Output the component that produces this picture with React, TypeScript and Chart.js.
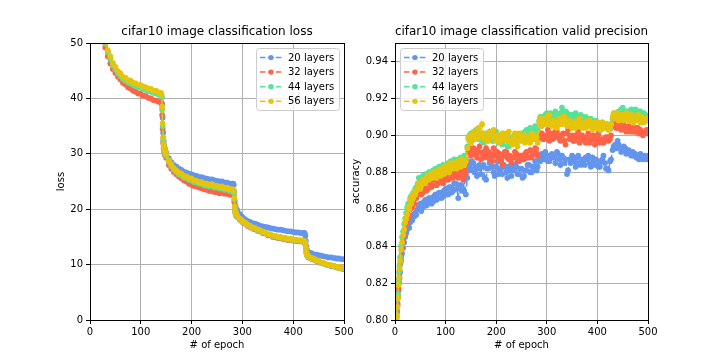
import React, { useEffect, useRef } from "react";
import { Chart, registerables } from "chart.js";

Chart.register(...registerables);

const FONT = "DejaVu Sans";

const seriesLabels = ["20 layers", "32 layers", "44 layers", "56 layers"];
const seriesColors = ["#6495ED", "#FF6347", "#55E39A", "#E6C40C"];

const epochTicks = [0, 100, 200, 300, 400, 500];
const lossTicks = [0, 10, 20, 30, 40, 50];
const accTicks = [0.8, 0.82, 0.84, 0.86, 0.88, 0.9, 0.92, 0.94];

// ---------- loss ----------
const lossEpochs = [
  25, 30, 35, 40, 45, 50, 55, 60, 65, 70, 75, 80, 85, 90, 95, 100, 105, 110, 115, 120, 125, 130, 135, 140,
  141, 142, 143, 144, 145, 146, 147, 148,
  150, 155, 160, 165, 170, 175, 180, 185, 190, 195, 200, 205, 210, 215, 220, 225, 230, 235, 240, 245, 250, 255, 260, 265, 270, 275, 280,
  282, 283, 284, 285, 286, 287, 288,
  290, 295, 300, 305, 310, 315, 320, 325, 330, 335, 340, 345, 350, 355, 360, 365, 370, 375, 380, 385, 390, 395, 400, 405, 410, 415, 420,
  422, 423, 424, 425, 426, 427, 428, 429,
  430, 435, 440, 445, 450, 455, 460, 465, 470, 475, 480, 485, 490, 495, 500,
];

const loss20 = [
  52.3, 50.0, 48.4, 47.3, 46.1, 45.4, 44.6, 44.2, 43.6, 43.4, 43.0, 42.9, 42.5, 42.4, 42.1, 42.1, 41.8, 41.7, 41.4, 41.4, 41.1, 41.1, 40.8, 40.7,
  40.2, 39.0, 36.5, 33.8, 32.3, 31.6, 31.1, 30.7,
  30.2, 29.2, 28.5, 28.0, 27.7, 27.3, 27.1, 26.8, 26.6, 26.4, 26.3, 26.1, 26.0, 25.8, 25.8, 25.6, 25.5, 25.4, 25.4, 25.2, 25.1, 25.0, 25.0, 24.8, 24.8, 24.6, 24.6,
  24.6, 24.4, 23.2, 21.5, 20.7, 20.3, 20.0,
  19.8, 19.1, 18.6, 18.2, 17.9, 17.7, 17.5, 17.4, 17.2, 17.0, 16.9, 16.8, 16.7, 16.6, 16.5, 16.4, 16.3, 16.3, 16.2, 16.1, 16.0, 16.0, 15.9, 15.8, 15.8, 15.7, 15.7,
  15.7, 15.6, 15.2, 14.3, 13.3, 12.7, 12.4, 12.3,
  12.2, 12.1, 11.9, 11.8, 11.7, 11.6, 11.5, 11.4, 11.3, 11.3, 11.2, 11.1, 11.1, 11.0, 11.0,
];

const loss32 = [
  51.5, 49.2, 47.6, 46.3, 45.3, 44.6, 43.9, 43.4, 42.8, 42.5, 42.0, 41.8, 41.4, 41.2, 40.9, 40.8, 40.5, 40.4, 40.1, 40.0, 39.7, 39.6, 39.4, 39.3,
  39.0, 37.0, 34.5, 32.0, 31.0, 30.4, 30.0, 29.7,
  29.3, 28.0, 27.3, 26.7, 26.3, 25.9, 25.6, 25.2, 25.0, 24.6, 24.4, 24.2, 24.1, 23.9, 23.8, 23.6, 23.5, 23.3, 23.3, 23.1, 23.1, 22.9, 23.0, 22.8, 22.8, 22.6, 22.7,
  22.7, 22.5, 21.3, 20.0, 19.4, 19.1, 18.8,
  18.6, 18.1, 17.7, 17.4, 17.0, 16.8, 16.5, 16.4, 16.1, 16.0, 15.7, 15.6, 15.3, 15.3, 15.0, 15.0, 14.8, 14.8, 14.6, 14.6, 14.4, 14.5, 14.3, 14.3, 14.2, 14.2, 14.1,
  14.1, 14.0, 13.6, 12.8, 12.1, 11.8, 11.6, 11.5,
  11.3, 11.1, 10.9, 10.7, 10.5, 10.3, 10.2, 10.0, 9.9, 9.7, 9.7, 9.5, 9.4, 9.3, 9.2,
];

const loss44 = [
  52.1, 49.9, 48.3, 47.1, 46.0, 45.2, 44.5, 44.0, 43.5, 43.2, 42.9, 42.7, 42.4, 42.2, 42.0, 41.9, 41.7, 41.5, 41.3, 41.2, 41.0, 40.9, 40.7, 40.6,
  40.3, 38.0, 35.0, 32.6, 31.5, 30.9, 30.5, 30.1,
  29.6, 28.5, 27.8, 27.1, 26.7, 26.3, 26.1, 25.7, 25.6, 25.3, 25.2, 24.9, 24.8, 24.6, 24.6, 24.3, 24.3, 24.1, 24.2, 23.9, 23.9, 23.7, 23.8, 23.5, 23.6, 23.3, 23.3,
  23.2, 23.0, 21.8, 20.3, 19.6, 19.2, 18.9,
  18.7, 18.2, 17.8, 17.5, 17.1, 16.9, 16.6, 16.5, 16.2, 16.1, 15.8, 15.7, 15.4, 15.4, 15.1, 15.1, 14.9, 14.9, 14.7, 14.7, 14.5, 14.6, 14.4, 14.4, 14.3, 14.3, 14.2,
  14.1, 14.1, 13.7, 12.9, 12.2, 11.8, 11.6, 11.5,
  11.4, 11.1, 11.0, 10.7, 10.6, 10.3, 10.2, 10.0, 9.9, 9.8, 9.7, 9.5, 9.5, 9.3, 9.3,
];

const loss56 = [
  52.6, 50.3, 48.7, 47.6, 46.4, 45.7, 44.9, 44.5, 43.9, 43.7, 43.3, 43.2, 42.8, 42.7, 42.4, 42.4, 42.1, 42.0, 41.7, 41.7, 41.4, 41.4, 41.1, 41.0,
  40.6, 38.5, 35.5, 33.0, 31.8, 31.2, 30.8, 30.4,
  29.9, 28.8, 28.1, 27.4, 27.0, 26.6, 26.4, 26.0, 25.9, 25.6, 25.5, 25.2, 25.1, 24.9, 24.9, 24.6, 24.6, 24.4, 24.5, 24.2, 24.2, 24.0, 24.1, 23.8, 23.9, 23.6, 23.6,
  23.5, 23.3, 22.0, 20.5, 19.8, 19.4, 19.1,
  18.8, 18.3, 17.9, 17.6, 17.2, 17.0, 16.7, 16.6, 16.3, 16.2, 15.9, 15.8, 15.5, 15.5, 15.2, 15.2, 15.0, 15.0, 14.8, 14.8, 14.6, 14.7, 14.5, 14.5, 14.4, 14.4, 14.3,
  14.2, 14.2, 13.8, 13.0, 12.3, 11.9, 11.7, 11.6,
  11.5, 11.2, 11.1, 10.8, 10.7, 10.4, 10.3, 10.1, 10.0, 9.9, 9.8, 9.6, 9.6, 9.4, 9.4,
];

// ---------- valid precision ----------
const accEpochs = [
  1, 2, 3, 4, 5, 6, 7, 8, 9, 10,
  12, 14, 16, 18, 20, 22, 24, 26, 28, 30, 32, 34, 36, 38, 40,
  42, 45, 47, 50, 52, 55, 57, 60, 62, 65, 67, 70, 72, 75, 77, 80, 82, 85, 87, 90,
  92, 95, 97, 100, 102, 105, 107, 110, 112, 115, 117, 120, 122, 125, 127, 130, 132, 135, 137, 140,
  143,
  145, 147, 150, 152, 155, 157, 160, 162, 165, 167, 170, 172, 175, 177, 180, 182, 185, 187, 190, 192,
  195, 197, 200, 202, 205, 207, 210, 212, 215, 217, 220, 222, 225, 227, 230, 232, 235, 237, 240, 242,
  245, 247, 250, 252, 255, 257, 260, 262, 265, 267, 270, 272, 275, 277, 280, 282,
  285, 287, 290, 292, 295, 297, 300, 302, 305, 307, 310, 312, 315, 317, 320, 322, 325, 327, 330, 332,
  335, 337, 340, 342, 345, 347, 350, 352, 355, 357, 360, 362, 365, 367, 370, 372, 375, 377, 380, 382,
  385, 387, 390, 392, 395, 397, 400, 402, 405, 407, 410, 412, 415, 417, 420, 422, 425, 427,
  430, 432, 435, 437, 440, 442, 445, 447, 450, 452, 455, 457, 460, 462, 465, 467, 470, 472, 475, 477,
  480, 482, 485, 487, 490, 492, 495, 497, 500,
];

const acc20 = [
  0.785, 0.792, 0.799, 0.804, 0.808, 0.812, 0.816, 0.82, 0.823, 0.826,
  0.832, 0.836, 0.839, 0.842, 0.845, 0.847, 0.849, 0.851, 0.85, 0.853, 0.855, 0.854, 0.857, 0.856, 0.858,
  0.857, 0.86, 0.862, 0.863, 0.859, 0.861, 0.864, 0.865, 0.862, 0.863, 0.866, 0.866, 0.863, 0.864, 0.867, 0.868, 0.865, 0.866, 0.869, 0.869,
  0.866, 0.867, 0.87, 0.871, 0.868, 0.868, 0.872, 0.872, 0.869, 0.87, 0.874, 0.874, 0.871, 0.866, 0.873, 0.873, 0.87, 0.87, 0.876, 0.868,
  0.877,
  0.884, 0.881, 0.882, 0.886, 0.885, 0.88, 0.883, 0.878, 0.882, 0.884, 0.879, 0.883, 0.884, 0.877, 0.876, 0.882, 0.882, 0.885, 0.888, 0.883,
  0.88, 0.878, 0.883, 0.886, 0.879, 0.881, 0.882, 0.879, 0.884, 0.883, 0.88, 0.877, 0.883, 0.881, 0.878, 0.882, 0.881, 0.884, 0.883, 0.879,
  0.879, 0.882, 0.882, 0.877, 0.878, 0.881, 0.881, 0.884, 0.884, 0.88, 0.88, 0.883, 0.883, 0.886, 0.881, 0.883,
  0.888, 0.886, 0.89, 0.889, 0.887, 0.891, 0.889, 0.886, 0.886, 0.889, 0.89, 0.888, 0.888, 0.885, 0.891, 0.89, 0.887, 0.884, 0.889, 0.888,
  0.885, 0.887, 0.879, 0.881, 0.887, 0.885, 0.889, 0.888, 0.886, 0.883, 0.888, 0.889, 0.885, 0.884, 0.887, 0.885, 0.884, 0.888, 0.887, 0.889,
  0.885, 0.883, 0.888, 0.886, 0.884, 0.887, 0.886, 0.883, 0.883, 0.886, 0.887, 0.889, 0.885, 0.882, 0.882, 0.881, 0.886, 0.887,
  0.892, 0.894, 0.895, 0.893, 0.897, 0.895, 0.893, 0.891, 0.892, 0.894, 0.893, 0.89, 0.891, 0.892, 0.89, 0.889, 0.891, 0.889, 0.89, 0.888,
  0.889, 0.887, 0.89, 0.888, 0.887, 0.889, 0.888, 0.887, 0.889,
];

const acc32 = [
  0.787, 0.795, 0.801, 0.805, 0.809, 0.813, 0.817, 0.822, 0.825, 0.83,
  0.834, 0.839, 0.843, 0.846, 0.849, 0.852, 0.854, 0.857, 0.856, 0.86, 0.862, 0.861, 0.864, 0.863, 0.866,
  0.866, 0.868, 0.87, 0.871, 0.868, 0.869, 0.872, 0.873, 0.87, 0.871, 0.875, 0.874, 0.872, 0.873, 0.876, 0.876, 0.873, 0.874, 0.877, 0.878,
  0.875, 0.874, 0.877, 0.878, 0.876, 0.876, 0.879, 0.88, 0.877, 0.877, 0.88, 0.881, 0.878, 0.877, 0.88, 0.882, 0.878, 0.876, 0.881, 0.879,
  0.886,
  0.891, 0.893, 0.889, 0.892, 0.893, 0.89, 0.892, 0.888, 0.891, 0.894, 0.887, 0.89, 0.891, 0.888, 0.893, 0.889, 0.891, 0.887, 0.89, 0.886,
  0.893, 0.889, 0.889, 0.891, 0.887, 0.89, 0.886, 0.884, 0.889, 0.891, 0.891, 0.888, 0.887, 0.889, 0.885, 0.888, 0.888, 0.891, 0.89, 0.886,
  0.886, 0.889, 0.889, 0.887, 0.887, 0.89, 0.891, 0.888, 0.888, 0.892, 0.888, 0.89, 0.89, 0.893, 0.89, 0.889,
  0.899, 0.901, 0.901, 0.898, 0.898, 0.9, 0.9, 0.903, 0.897, 0.899, 0.901, 0.898, 0.899, 0.902, 0.902, 0.9, 0.898, 0.897, 0.9, 0.901,
  0.897, 0.895, 0.901, 0.903, 0.898, 0.899, 0.9, 0.897, 0.897, 0.9, 0.899, 0.902, 0.896, 0.898, 0.9, 0.899, 0.897, 0.896, 0.899, 0.901,
  0.896, 0.898, 0.898, 0.9, 0.895, 0.897, 0.899, 0.901, 0.896, 0.898, 0.898, 0.896, 0.897, 0.899, 0.899, 0.897, 0.898, 0.9,
  0.905, 0.907, 0.906, 0.904, 0.904, 0.906, 0.905, 0.903, 0.905, 0.906, 0.903, 0.902, 0.904, 0.905, 0.902, 0.903, 0.904, 0.902, 0.902, 0.904,
  0.904, 0.901, 0.903, 0.902, 0.9, 0.901, 0.902, 0.903, 0.901,
];

const acc44 = [
  0.788, 0.796, 0.803, 0.807, 0.812, 0.814, 0.821, 0.826, 0.829, 0.834,
  0.84, 0.845, 0.848, 0.852, 0.855, 0.858, 0.861, 0.863, 0.862, 0.866, 0.867, 0.865, 0.869, 0.868, 0.871,
  0.872, 0.874, 0.877, 0.876, 0.873, 0.878, 0.877, 0.879, 0.876, 0.877, 0.88, 0.879, 0.877, 0.881, 0.88, 0.882, 0.879, 0.88, 0.883, 0.882,
  0.88, 0.884, 0.883, 0.882, 0.881, 0.885, 0.884, 0.886, 0.882, 0.884, 0.887, 0.885, 0.883, 0.887, 0.886, 0.888, 0.885, 0.884, 0.889, 0.887,
  0.894,
  0.898, 0.9, 0.901, 0.897, 0.899, 0.902, 0.903, 0.899, 0.898, 0.901, 0.9, 0.897, 0.896, 0.9, 0.901, 0.898, 0.898, 0.902, 0.899, 0.897,
  0.897, 0.9, 0.902, 0.898, 0.896, 0.899, 0.899, 0.895, 0.897, 0.9, 0.898, 0.894, 0.894, 0.898, 0.899, 0.896, 0.896, 0.899, 0.9, 0.897,
  0.897, 0.9, 0.901, 0.898, 0.899, 0.902, 0.903, 0.9, 0.901, 0.904, 0.902, 0.901, 0.903, 0.905, 0.902, 0.903,
  0.908, 0.91, 0.91, 0.907, 0.908, 0.911, 0.912, 0.909, 0.909, 0.912, 0.911, 0.908, 0.91, 0.913, 0.911, 0.909, 0.91, 0.912, 0.915, 0.911,
  0.911, 0.913, 0.912, 0.909, 0.909, 0.911, 0.911, 0.908, 0.909, 0.912, 0.91, 0.907, 0.908, 0.911, 0.91, 0.908, 0.907, 0.91, 0.909, 0.906,
  0.906, 0.909, 0.908, 0.905, 0.905, 0.908, 0.907, 0.904, 0.903, 0.906, 0.907, 0.904, 0.904, 0.906, 0.905, 0.903, 0.904, 0.906,
  0.909, 0.911, 0.912, 0.91, 0.91, 0.913, 0.913, 0.914, 0.915, 0.912, 0.911, 0.913, 0.913, 0.91, 0.912, 0.914, 0.912, 0.913, 0.914, 0.911,
  0.911, 0.913, 0.913, 0.91, 0.91, 0.912, 0.911, 0.91, 0.91,
];

const acc56 = [
  0.786, 0.794, 0.8, 0.802, 0.807, 0.812, 0.819, 0.823, 0.828, 0.832,
  0.838, 0.842, 0.846, 0.849, 0.853, 0.855, 0.857, 0.861, 0.86, 0.865, 0.863, 0.867, 0.866, 0.869, 0.868,
  0.87, 0.872, 0.874, 0.871, 0.873, 0.876, 0.875, 0.874, 0.877, 0.878, 0.876, 0.879, 0.878, 0.877, 0.88, 0.879, 0.877, 0.881, 0.88, 0.878,
  0.882, 0.881, 0.879, 0.883, 0.882, 0.884, 0.88, 0.885, 0.883, 0.882, 0.885, 0.884, 0.882, 0.886, 0.885, 0.883, 0.887, 0.886, 0.884, 0.886,
  0.893,
  0.899, 0.897, 0.896, 0.9, 0.902, 0.899, 0.898, 0.901, 0.904, 0.901, 0.899, 0.906, 0.901, 0.898, 0.9, 0.897, 0.897, 0.902, 0.899, 0.902,
  0.903, 0.899, 0.897, 0.9, 0.9, 0.896, 0.898, 0.901, 0.901, 0.898, 0.897, 0.9, 0.902, 0.897, 0.897, 0.895, 0.899, 0.901, 0.897, 0.894,
  0.901, 0.898, 0.897, 0.9, 0.9, 0.896, 0.897, 0.899, 0.899, 0.896, 0.901, 0.898, 0.898, 0.9, 0.899, 0.896,
  0.907, 0.909, 0.905, 0.908, 0.909, 0.906, 0.906, 0.91, 0.911, 0.907, 0.905, 0.908, 0.908, 0.905, 0.904, 0.907, 0.909, 0.906, 0.906, 0.91,
  0.91, 0.907, 0.905, 0.908, 0.908, 0.905, 0.904, 0.907, 0.907, 0.904, 0.905, 0.908, 0.909, 0.905, 0.904, 0.906, 0.907, 0.904, 0.905, 0.908,
  0.908, 0.905, 0.903, 0.906, 0.907, 0.904, 0.904, 0.907, 0.906, 0.903, 0.907, 0.905, 0.904, 0.906, 0.906, 0.903, 0.905, 0.906,
  0.91, 0.912, 0.909, 0.911, 0.912, 0.908, 0.909, 0.911, 0.911, 0.908, 0.909, 0.912, 0.91, 0.908, 0.908, 0.911, 0.91, 0.907, 0.909, 0.91,
  0.911, 0.908, 0.907, 0.91, 0.909, 0.907, 0.908, 0.909, 0.908,
];

// ---------- plugin: full frame + inside legend ----------
const frameLegend = {
  id: "frameLegend",
  afterDatasetsDraw(chart: any, _args: any, opts: any) {
    const { ctx, chartArea: a } = chart;
    ctx.save();
    const l = Math.round(a.left) + 0.5;
    const t = Math.round(a.top) + 0.5;
    const r = Math.round(a.right) + 0.5;
    const b = Math.round(a.bottom) + 0.5;
    ctx.strokeStyle = "#000";
    ctx.lineWidth = 1;
    ctx.setLineDash([]);
    ctx.strokeRect(l, t, r - l, b - t);

    const w = 83;
    const h = 62;
    const x0 = opts.side === "right" ? Math.round(a.right) - 5 - w : Math.round(a.left) + 5;
    const y0 = Math.round(a.top) + 5;
    ctx.beginPath();
    if (ctx.roundRect) ctx.roundRect(x0 + 0.5, y0 + 0.5, w, h, 3);
    else ctx.rect(x0 + 0.5, y0 + 0.5, w, h);
    ctx.fillStyle = "rgba(255,255,255,0.8)";
    ctx.fill();
    ctx.strokeStyle = "#cccccc";
    ctx.lineWidth = 1;
    ctx.stroke();

    ctx.font = `10px "${FONT}"`;
    ctx.textBaseline = "middle";
    ctx.textAlign = "left";
    chart.data.datasets.forEach((ds: any, i: number) => {
      const cy = y0 + 9.5 + i * 14.6;
      ctx.strokeStyle = ds.borderColor;
      ctx.lineWidth = 1.5;
      ctx.setLineDash([5.5, 2.4]);
      ctx.beginPath();
      ctx.moveTo(x0 + 4, cy);
      ctx.lineTo(x0 + 26, cy);
      ctx.stroke();
      ctx.setLineDash([]);
      ctx.fillStyle = ds.borderColor;
      ctx.beginPath();
      ctx.arc(x0 + 15, cy, 2.6, 0, Math.PI * 2);
      ctx.fill();
      ctx.fillStyle = "#000";
      ctx.fillText(ds.label, x0 + 32, cy + 0.5);
    });
    ctx.restore();
  },
};

function makeDatasets(values: number[][]) {
  const orders = [3, 2, 1, 0];
  return values.map((data, i) => ({
    label: seriesLabels[i],
    data,
    borderColor: seriesColors[i],
    backgroundColor: seriesColors[i],
    pointBackgroundColor: seriesColors[i],
    borderWidth: 1.5,
    borderDash: [5.5, 2.4],
    pointRadius: 2.9,
    pointBorderWidth: 0,
    pointHoverRadius: 0,
    tension: 0,
    fill: false,
    order: orders[i],
  }));
}

type PanelProps = {
  left: number;
  width: number;
  title: string;
  yTitle: string;
  yTitlePad: number;
  yWidth: number;
  padRight: number;
  epochs: number[];
  series: number[][];
  yMin: number;
  yMax: number;
  yTicks: number[];
  yFmt: (v: number) => string;
  legendSide: string;
};

function Panel(p: PanelProps) {
  const ref = useRef<HTMLCanvasElement | null>(null);
  useEffect(() => {
    if (!ref.current) return;
    const tickFont = { family: FONT, size: 10 };
    const grid = {
      color: "#b0b0b0",
      lineWidth: 1,
      tickColor: "#000",
      tickLength: 4,
      tickWidth: 1,
      drawTicks: true,
    };
    const chart = new Chart(ref.current, {
      type: "line",
      data: { labels: p.epochs, datasets: makeDatasets(p.series) as any },
      plugins: [frameLegend as any],
      options: {
        animation: false,
        responsive: false,
        events: [],
        layout: { padding: { left: 0, right: p.padRight, top: 0, bottom: 0 } },
        plugins: {
          legend: { display: false },
          tooltip: { enabled: false },
          title: {
            display: true,
            text: p.title,
            color: "#000",
            fullSize: false,
            font: { family: FONT, size: 12, weight: "normal", lineHeight: 1.2 } as any,
            padding: { top: 24.5, bottom: 4.1 },
          },
          frameLegend: { side: p.legendSide },
        } as any,
        scales: {
          x: {
            type: "linear",
            min: 0,
            max: 500,
            afterBuildTicks: (s: any) => {
              s.ticks = epochTicks.map((v) => ({ value: v }));
            },
            afterFit: (s: any) => {
              s.height = 40;
            },
            grid,
            border: { display: false },
            ticks: { color: "#000", font: tickFont, padding: 2, maxRotation: 0, autoSkip: false },
            title: {
              display: true,
              text: "# of epoch",
              color: "#000",
              font: { family: FONT, size: 10, lineHeight: 1.2 },
              padding: { top: 0, bottom: 9 },
            },
          },
          y: {
            type: "linear",
            min: p.yMin,
            max: p.yMax,
            afterBuildTicks: (s: any) => {
              s.ticks = p.yTicks.map((v) => ({ value: v }));
            },
            afterFit: (s: any) => {
              s.width = p.yWidth;
            },
            grid,
            border: { display: false },
            ticks: {
              color: "#000",
              font: tickFont,
              padding: 3,
              autoSkip: false,
              callback: (v: any) => p.yFmt(Number(v)),
            },
            title: {
              display: true,
              text: p.yTitle,
              color: "#000",
              font: { family: FONT, size: 10, lineHeight: 1.2 },
              padding: { top: p.yTitlePad, bottom: 0 },
            },
          },
        } as any,
      },
    });
    return () => chart.destroy();
  }, []);
  return (
    <canvas
      ref={ref}
      width={p.width}
      height={360}
      style={{ position: "absolute", left: p.left, top: 0, width: p.width, height: 360 }}
    />
  );
}

export default function App() {
  return (
    <div
      style={{
        position: "fixed",
        left: 0,
        top: 0,
        width: 720,
        height: 360,
        background: "#fff",
        overflow: "hidden",
      }}
    >
      <Panel
        left={0}
        width={360}
        title="cifar10 image classification loss"
        yTitle="loss"
        yTitlePad={55}
        yWidth={90}
        padRight={16}
        epochs={lossEpochs}
        series={[loss20, loss32, loss44, loss56]}
        yMin={0}
        yMax={50}
        yTicks={lossTicks}
        yFmt={(v) => String(Math.round(v))}
        legendSide="right"
      />
      <Panel
        left={345}
        width={375}
        title="cifar10 image classification valid precision"
        yTitle="accuracy"
        yTitlePad={5}
        yWidth={50}
        padRight={72}
        epochs={accEpochs}
        series={[acc20, acc32, acc44, acc56]}
        yMin={0.8}
        yMax={0.95}
        yTicks={accTicks}
        yFmt={(v) => v.toFixed(2)}
        legendSide="left"
      />
    </div>
  );
}
